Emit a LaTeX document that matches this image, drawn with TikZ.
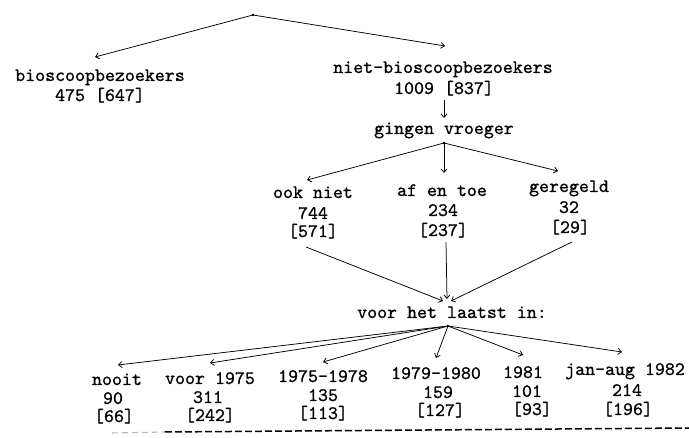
\documentclass[tikz,border=0pt]{standalone}
\usepackage{fontspec}
\newfontfamily\typewriter{lmmono10-regular}[Extension=.otf,FakeBold=0.9]
\usetikzlibrary{arrows.meta}
\begin{document}
\begin{tikzpicture}[x=1pt,y=-1pt,
  lbl/.style={font=\typewriter\fontsize{19}{19}\selectfont,inner sep=0pt,anchor=base},
  conn/.style={line width=0.75pt},
  arr/.style={conn,-{Straight Barb[length=3.5pt,width=6pt,line width=0.75pt]}},
  junction/.style={circle,fill=black,inner sep=0pt,minimum size=2.8pt}]
\useasboundingbox (0,0) rectangle (689,438);
% ---------- text nodes
\node[lbl] (bio)   at (100,81)  {bioscoopbezoekers};
\node[lbl] (bioN)  at (100,101) {475 [647]};
\node[lbl] (niet)  at (443,73)  {niet-bioscoopbezoekers};
\node[lbl] (nietN) at (444,94)  {1009 [837]};
\node[lbl] (ging)  at (444,134) {gingen vroeger};
\node[lbl] (ook)   at (313,198) {ook niet};
\node[lbl] (ookN)  at (313,219) {744};
\node[lbl] (ookB)  at (313,237) {[571]};
\node[lbl] (af)    at (442,196) {af en toe};
\node[lbl] (afN)   at (443,216) {234};
\node[lbl] (afB)   at (443,236) {[237]};
\node[lbl] (ger)   at (569,192) {geregeld};
\node[lbl] (gerN)  at (569,213) {32};
\node[lbl] (gerB)  at (570,233) {[29]};
\node[lbl] (laatst) at (452,318) {voor het laatst in:};
\node[lbl] (c1)  at (117,385) {nooit};
\node[lbl] (c1N) at (113,404) {90};
\node[lbl] (c1B) at (114,422) {[66]};
\node[lbl] (c2)  at (210,384) {voor 1975};
\node[lbl] (c2N) at (208,403) {311};
\node[lbl] (c2B) at (210,421) {[242]};
\node[lbl] (c3)  at (323,382) {1975–1978};
\node[lbl] (c3N) at (323,401) {135};
\node[lbl] (c3B) at (323,419) {[113]};
\node[lbl] (c4)  at (436,379) {1979–1980};
\node[lbl] (c4N) at (438,398) {159};
\node[lbl] (c4B) at (440,416) {[127]};
\node[lbl] (c5)  at (523,378) {1981};
\node[lbl] (c5N) at (527,397) {101};
\node[lbl] (c5B) at (532,415) {[93]};
\node[lbl] (c6)  at (625,375) {jan-aug 1982};
\node[lbl] (c6N) at (627,396) {214};
\node[lbl] (c6B) at (628,415) {[196]};
% ---------- junctions and connector ends
\node[junction] (r1) at (253,15) {};
\node[junction] (r2) at (444,143) {};
\node[junction] (r3) at (448,326) {};
\coordinate (bioT)  at (95,57);
\coordinate (nietT) at (445,46);
\coordinate (nietS) at (444,100);
\coordinate (gingT) at (444,118);
\coordinate (ookT)  at (307,180);
\coordinate (afT)   at (444,173);
\coordinate (gerT)  at (558,171);
\coordinate (ookS)  at (306,247);
\coordinate (afS)   at (446,242);
\coordinate (gerS)  at (572,242);
\coordinate (lT1)   at (443,301);
\coordinate (lT2)   at (447,299);
\coordinate (lT3)   at (451,301);
\coordinate (c1T) at (118,365);
\coordinate (c2T) at (210,363);
\coordinate (c3T) at (323,362);
\coordinate (c4T) at (436,358);
\coordinate (c5T) at (523,355);
\coordinate (c6T) at (622,352);
% ---------- connectors
\draw[arr] (r1.center) -- (bioT);
\draw[arr] (r1.center) -- (nietT);
\draw[arr] (nietS) -- (gingT);
\draw[arr] (r2.center) -- (ookT);
\draw[arr] (r2.center) -- (afT);
\draw[arr] (r2.center) -- (gerT);
\draw[arr] (ookS) -- (lT1);
\draw[arr] (afS) -- (lT2);
\draw[arr] (gerS) -- (lT3);
\foreach \t in {c1T,c2T,c3T,c4T,c5T,c6T}
  \draw[arr] (r3.center) -- (\t);
% ---------- dashed rule at the bottom
\coordinate (dA) at (112,433);
\coordinate (dB) at (165,432);
\coordinate (dC) at (689,428);
\draw[line width=1.1pt,gray!55,dash pattern=on 6pt off 4pt] (dA) -- (dB);
\draw[line width=1.5pt,black,dash pattern=on 7pt off 3pt] (dB) -- (dC);
\end{tikzpicture}
\end{document}
